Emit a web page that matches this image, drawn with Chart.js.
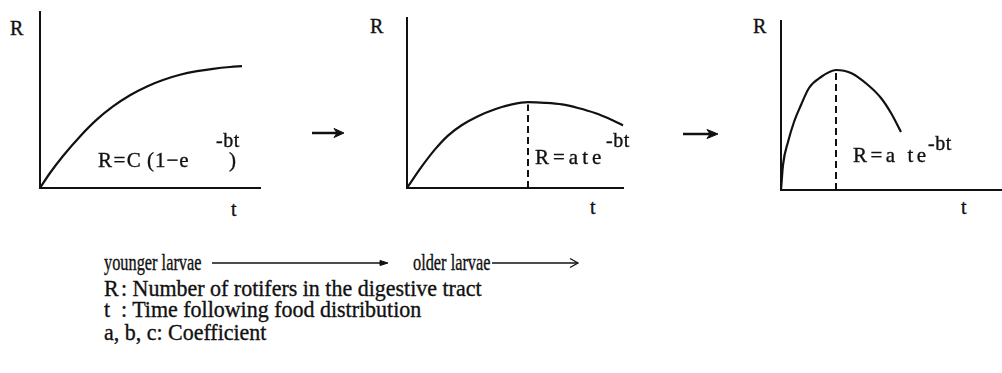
<!DOCTYPE html>
<html>
<head>
<meta charset="utf-8">
<script src="https://cdn.jsdelivr.net/npm/chart.js@4.4.1/dist/chart.umd.min.js"></script>
<style>
  html, body { margin: 0; padding: 0; background: #fff; }
  #page {
    position: relative; width: 1002px; height: 373px; overflow: hidden;
    font-family: "Liberation Serif", "Times New Roman", serif; color: #111;
  }
  .plot { position: absolute; }
  .plot canvas { display: block; }
  .lbl {
    position: absolute; white-space: pre; line-height: 1; transform-origin: 0 0;
    -webkit-text-stroke: 0.35px #111;
  }
  .axis { font-size: 20px; }
  .eq { font-size: 21px; }
  .sup { font-size: 20px; letter-spacing: 0.5px; }
  .body { font-size: 23px; transform: scaleX(0.955); }
  .stage { font-size: 23px; transform: scaleX(0.71); }
  svg.marks { position: absolute; left: 0; top: 0; }
</style>
</head>
<body>
<div id="page">
  <div class="plot"><canvas id="young"></canvas></div>
  <div class="plot"><canvas id="mid"></canvas></div>
  <div class="plot"><canvas id="old"></canvas></div>

  <!-- axis letters -->
  <div class="lbl axis" style="left:10px;top:18px">R</div>
  <div class="lbl axis" style="left:231px;top:199px">t</div>
  <div class="lbl axis" style="left:370px;top:16px">R</div>
  <div class="lbl axis" style="left:590px;top:197px">t</div>
  <div class="lbl axis" style="left:753px;top:16px">R</div>
  <div class="lbl axis" style="left:961px;top:197px">t</div>

  <!-- model equations -->
  <div class="lbl eq" style="left:98px;top:150px;letter-spacing:1.5px">R=C</div>
  <div class="lbl eq" style="left:147px;top:150px;letter-spacing:1px">(1−e</div>
  <div class="lbl sup" style="left:216px;top:130px">-bt</div>
  <div class="lbl eq" style="left:229px;top:150px">)</div>

  <div class="lbl eq" style="left:535px;top:147px;letter-spacing:4px">R=ate</div>
  <div class="lbl sup" style="left:606px;top:130px">-bt</div>

  <div class="lbl eq" style="left:853px;top:145px;letter-spacing:3.5px">R=a te</div>
  <div class="lbl sup" style="left:928px;top:133px">-bt</div>

  <!-- stage and key -->
  <div class="lbl stage" style="left:104px;top:251px">younger larvae</div>
  <div class="lbl stage" style="left:413px;top:251px">older larvae</div>
  <div class="lbl body" style="left:104px;top:277px">R</div>
  <div class="lbl body" style="left:121px;top:277px">: Number of rotifers in the digestive tract</div>
  <div class="lbl body" style="left:104px;top:298px">t</div>
  <div class="lbl body" style="left:121px;top:298px">: Time following food distribution</div>
  <div class="lbl body" style="left:104px;top:321px">a, b, c: Coefficient</div>

  <svg class="marks" width="1002" height="373">
    <g stroke="#111" fill="#111">
      <line x1="312" y1="133" x2="337" y2="133" stroke-width="2.5"/>
      <polygon points="334,128.5 344,133 334,137.5 337,133"/>
      <line x1="683" y1="134" x2="710" y2="134" stroke-width="2.5"/>
      <polygon points="707,129.5 718,134 707,138.5 710,134"/>
      <line x1="212" y1="263" x2="383" y2="263" stroke-width="1.4"/>
      <polygon points="380,260.5 388,263 380,265.5"/>
      <line x1="492" y1="263" x2="577" y2="263" stroke-width="1.3"/>
      <polyline points="570,258.5 578,263 570,267.5" fill="none" stroke-width="1.3"/>
    </g>
  </svg>
</div>

<script>
// R (rotifers in gut) against t (time after feeding), arbitrary units
const youngT = [0, 0.5, 1.15, 2, 2.85, 3.65, 4.5, 5.35, 6.15, 7, 7.85, 8.65, 9.5, 10.1];
const youngR = [0, 0.75, 1.6, 2.58, 3.43, 4.08, 4.64, 5.08, 5.4, 5.66, 5.84, 5.96, 6.05, 6.09];

const midT = [0, 0.75, 1.4, 2.05, 2.75, 3.55, 4.4, 5.25, 6.05, 6.9, 7.75, 8.55, 9.4, 10.25, 10.8];
const midR = [0, 1.09, 1.93, 2.62, 3.15, 3.59, 3.94, 4.18, 4.29, 4.26, 4.18, 4.0, 3.75, 3.4, 3.13];

const oldT = [0, 0.1, 0.35, 0.65, 1.0, 1.4, 2.0, 2.75, 3.5, 4.35, 5.0, 5.5, 6.0];
const oldR = [0, 1.25, 2.4, 3.4, 4.25, 5.1, 5.65, 6.0, 5.85, 5.25, 4.6, 3.85, 2.9];

const UNIT = 20;   // px per axis unit
const PAD = 4;
const INK = "#111";

function axis(max) {
    return {
        type: "linear",
        min: 0,
        max: max,
        grid: { display: false, drawTicks: false },
        ticks: { display: false },
        border: { display: true, color: INK, width: 2 },
    };
}

function drawPanel(id, t, r, tMax, rMax, originX, originY, markPeak) {
    const canvas = document.getElementById(id);
    canvas.width = tMax * UNIT + PAD * 2;
    canvas.height = rMax * UNIT + PAD * 2;
    const wrap = canvas.parentElement;
    wrap.style.left = (originX - PAD) + "px";
    wrap.style.top = (originY - rMax * UNIT - PAD) + "px";

    const datasets = [{
        data: t.map((x, i) => ({ x, y: r[i] })),
        borderColor: INK,
        borderWidth: 2.2,
        pointRadius: 0,
        cubicInterpolationMode: "monotone",
        clip: false,
    }];

    if (markPeak) {
        // dashed drop line from the maximum down to the t axis
        const k = r.indexOf(Math.max(...r));
        datasets.push({
            data: [{ x: t[k], y: 0 }, { x: t[k], y: r[k] - 0.12 }],
            borderColor: INK,
            borderWidth: 2,
            borderDash: [7, 4],
            pointRadius: 0,
            clip: false,
        });
    }

    return new Chart(canvas, {
        type: "line",
        data: { datasets },
        options: {
            responsive: false,
            animation: false,
            events: [],
            layout: { padding: PAD },
            plugins: { legend: { display: false }, tooltip: { enabled: false } },
            scales: { x: axis(tMax), y: axis(rMax) },
        },
    });
}

drawPanel("young", youngT, youngR, 11, 8.8, 40, 188, false);
drawPanel("mid", midT, midR, 10.8, 8.5, 407, 188, true);
drawPanel("old", oldT, oldR, 11.1, 8.45, 781, 190, true);
</script>
</body>
</html>
